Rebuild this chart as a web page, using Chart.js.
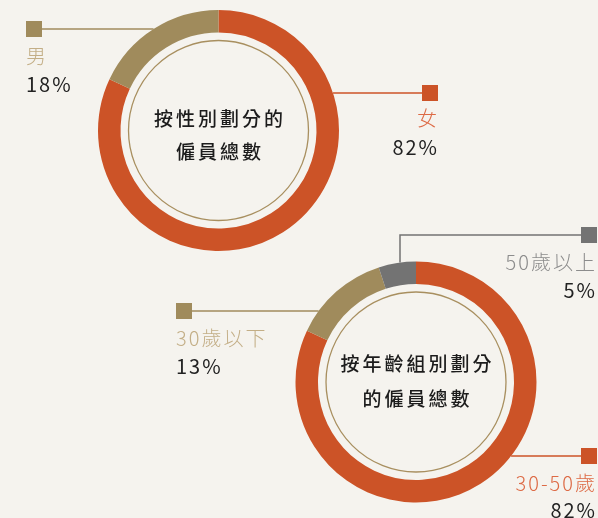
<!DOCTYPE html>
<html>
<head>
<meta charset="utf-8">
<script src="https://cdn.jsdelivr.net/npm/chart.js@4"></script>
<style>
  html, body { margin: 0; padding: 0; background: #f5f3ee; }
  #wrap { position: relative; width: 598px; height: 518px; overflow: hidden; }
  canvas { position: absolute; left: 0; top: 0; }
</style>
</head>
<body>
<div id="wrap">
  <canvas id="gender-chart" width="598" height="518"></canvas>
  <canvas id="age-chart" width="598" height="518"></canvas>
</div>
<script>
const genderLabels = ["女", "男"];
const genderValues = [82, 18];
const genderTitle = ["按性別劃分的", "僱員總數"];

const ageLabels = ["30-50歲", "30歲以下", "50歲以上"];
const ageValues = [82, 13, 5];
const ageTitle = ["按年齡組別劃分", "的僱員總數"];

const RED = "#cc5327";
const TAN = "#a08b5c";
const GREY = "#737373";
const FONT = '"Noto Sans CJK TC", "Noto Sans", sans-serif';

// where each callout sits (layout only)
const genderCallouts = [
  { lineY: 93, markerX: 422, side: "right", textX: 437, nameY: 118, valueY: 147, nameColor: "#dd6a45" },
  { lineY: 29, markerX: 26, side: "left", textX: 26, nameY: 56, valueY: 84, nameColor: "#c3ae86" },
];
const ageCallouts = [
  { lineY: 456, markerX: 581, side: "right", textX: 595, nameY: 483, valueY: 510, nameColor: "#dd6a45" },
  { lineY: 311, markerX: 176, side: "left", textX: 176, nameY: 338, valueY: 366, nameColor: "#c3ae86" },
  { lineY: 235, markerX: 581, side: "right", elbowX: 400, textX: 595, nameY: 262, valueY: 290, nameColor: "#8c8c8c" },
];

function calloutPlugin(title, titleOffsets, callouts) {
  return {
    id: "callouts",
    afterDraw(chart) {
      const ctx = chart.ctx;
      const arc = chart.getDatasetMeta(0).data[0];
      const cx = arc.x, cy = arc.y, R = arc.outerRadius;
      const colors = chart.data.datasets[0].backgroundColor;
      const values = chart.data.datasets[0].data;
      const labels = chart.data.labels;
      ctx.save();

      // thin inner circle
      ctx.beginPath();
      ctx.arc(cx, cy, 90, 0, Math.PI * 2);
      ctx.strokeStyle = "#a88f5f";
      ctx.lineWidth = 1.3;
      ctx.stroke();

      // centre title
      ctx.fillStyle = "#1c1c1c";
      ctx.font = "500 19px " + FONT;
      ctx.letterSpacing = "3px";
      ctx.textAlign = "center";
      ctx.textBaseline = "middle";
      title.forEach((t, i) => ctx.fillText(t, cx + 1.5, cy + titleOffsets[i]));

      callouts.forEach((c, i) => {
        const col = colors[i];
        ctx.strokeStyle = col;
        ctx.fillStyle = col;
        ctx.lineWidth = 1.5;
        ctx.beginPath();
        if (c.elbowX !== undefined) {
          const dx = c.elbowX - cx;
          const ringY = cy - Math.sqrt(R * R - dx * dx);
          ctx.moveTo(c.elbowX, ringY);
          ctx.lineTo(c.elbowX, c.lineY);
          ctx.lineTo(c.markerX, c.lineY);
        } else {
          const dy = c.lineY - cy;
          const half = Math.sqrt(Math.max(R * R - dy * dy, 0));
          if (c.side === "left") {
            ctx.moveTo(cx - half, c.lineY);
            ctx.lineTo(c.markerX + 16, c.lineY);
          } else {
            ctx.moveTo(cx + half, c.lineY);
            ctx.lineTo(c.markerX, c.lineY);
          }
        }
        ctx.stroke();
        ctx.fillRect(c.markerX, c.lineY - 8, 16, 16);

        ctx.textAlign = c.side === "left" ? "left" : "right";
        ctx.textBaseline = "middle";
        const sp = 2;
        ctx.letterSpacing = sp + "px";
        const tx = c.side === "left" ? c.textX : c.textX + sp;
        ctx.font = "300 20px " + FONT;
        ctx.fillStyle = c.nameColor;
        ctx.fillText(labels[i], tx, c.nameY);
        ctx.font = "400 20px " + FONT;
        ctx.fillStyle = "#222222";
        ctx.fillText(values[i] + "%", tx, c.valueY);
      });
      ctx.restore();
    },
  };
}

function makeDoughnut(id, labels, values, colors, padding, title, titleOffsets, callouts) {
  const ctx = document.getElementById(id).getContext("2d");
  return new Chart(ctx, {
    type: "doughnut",
    data: {
      labels: labels,
      datasets: [
        {
          data: values,
          backgroundColor: colors,
          borderWidth: 0,
          hoverOffset: 0,
        },
      ],
    },
    options: {
      responsive: false,
      animation: false,
      devicePixelRatio: 1,
      events: [],
      radius: 120.5,
      cutout: 98,
      rotation: 0,
      layout: { padding: padding },
      plugins: {
        legend: { display: false },
        tooltip: { enabled: false },
      },
    },
    plugins: [calloutPlugin(title, titleOffsets, callouts)],
  });
}

makeDoughnut(
  "gender-chart",
  genderLabels,
  genderValues,
  [RED, TAN],
  { left: 98, right: 259, top: 10, bottom: 267 },
  genderTitle,
  [-12, 21],
  genderCallouts
);

makeDoughnut(
  "age-chart",
  ageLabels,
  ageValues,
  [RED, TAN, GREY],
  { left: 295.5, right: 61.5, top: 261.5, bottom: 15.5 },
  ageTitle,
  [-18, 17],
  ageCallouts
);
</script>
</body>
</html>
